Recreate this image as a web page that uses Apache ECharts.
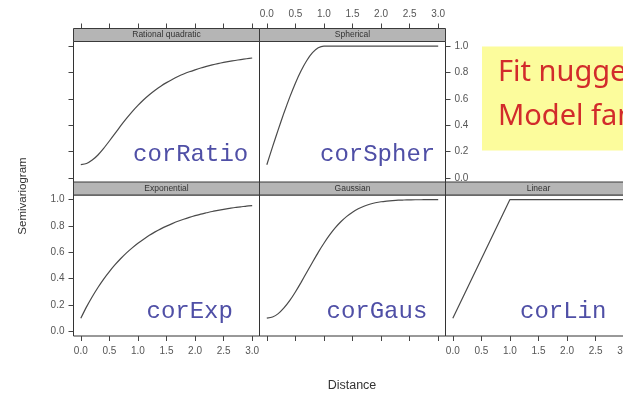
<!DOCTYPE html>
<html>
<head>
<meta charset="utf-8">
<script src="https://cdn.jsdelivr.net/npm/echarts@6/dist/echarts.min.js"></script>
<style>html,body{margin:0;padding:0;background:#fff}#c{width:623px;height:394px}</style>
</head>
<body>
<div id="c"></div>
<script>
// ---- data ----
const xTicks = [0, 0.5, 1, 1.5, 2, 2.5, 3];
const yTicks = [0, 0.2, 0.4, 0.6, 0.8, 1];
const distance = [0,0.1,0.2,0.3,0.4,0.5,0.6,0.7,0.8,0.9,1.0,1.1,1.2,1.3,1.4,1.5,1.6,1.7,1.8,1.9,2.0,2.1,2.2,2.3,2.4,2.5,2.6,2.7,2.8,2.9,3.0];
const rationalVals = [0.1,0.109,0.135,0.174,0.224,0.28,0.338,0.396,0.451,0.503,0.55,0.593,0.631,0.665,0.696,0.723,0.747,0.769,0.788,0.805,0.82,0.834,0.846,0.857,0.867,0.876,0.884,0.891,0.898,0.904,0.91];
const exponentialVals = [0.1,0.186,0.263,0.333,0.397,0.454,0.506,0.553,0.596,0.634,0.669,0.7,0.729,0.755,0.778,0.799,0.818,0.836,0.851,0.865,0.878,0.89,0.9,0.91,0.918,0.926,0.933,0.94,0.945,0.951,0.955];
const gaussianVals = [0.1,0.109,0.135,0.178,0.233,0.299,0.372,0.449,0.525,0.6,0.669,0.732,0.787,0.834,0.873,0.905,0.93,0.95,0.965,0.976,0.984,0.989,0.993,0.996,0.997,0.998,0.999,0.999,1.0,1.0,1.0];
const sphericalDist = [0,0.1,0.2,0.3,0.4,0.5,0.6,0.7,0.8,0.9,1.0,3.0];
const sphericalVals = [0.1,0.235,0.366,0.493,0.611,0.719,0.813,0.891,0.95,0.987,1.0,1.0];
const linearDist = [0, 1, 3];
const linearVals = [0.1, 1.0, 1.0];

const stripNames = ['Rational quadratic','Spherical','Exponential','Gaussian','Linear'];
const corNames = ['corRatio','corSpher','corExp','corGaus','corLin'];

// ---- layout ----
const colLeft = [73.5, 259.5, 445.5];
const colW = 186;
const rowTop = [41.5, 195];
const rowH = 141;
const stripH = 13;
// panel placement: [col,row]
const place = [[0,0],[1,0],[0,1],[1,1],[2,1]];
const seriesData = [
  distance.map((d,i)=>[d, rationalVals[i]]),
  sphericalDist.map((d,i)=>[d, sphericalVals[i]]),
  distance.map((d,i)=>[d, exponentialVals[i]]),
  distance.map((d,i)=>[d, gaussianVals[i]]),
  linearDist.map((d,i)=>[d, linearVals[i]])
];
const smoothing = [0.2, 0.15, 0.2, 0.2, false];
// axis config: [position, ticks, labels]
const xCfg = [['top',true,false],['top',true,true],['bottom',true,true],['bottom',true,false],['bottom',true,true]];
const yCfg = [['left',true,false],['right',true,true],['left',true,true],['left',false,false],['right',true,false]];
const corPos = [[133,166.5],[320,166.5],[146.5,323.5],[326.5,323.5],[520,323.5]];

const axisColor = '#444';
const labelColor = '#555';
const fmt = v => v.toFixed(1);

const grids = [], xAxes = [], yAxes = [], series = [], graphics = [];
place.forEach((p,i)=>{
  const left = colLeft[p[0]], top = rowTop[p[1]];
  grids.push({left:left, top:top, width:colW, height:rowH, show:true, borderColor:'#333', borderWidth:1,
              backgroundColor:'transparent', containLabel:false, outerBoundsMode:'none'});
  const xc = xCfg[i], yc = yCfg[i];
  xAxes.push({
    type:'value', gridIndex:i, min:-0.128, max:3.128, position:xc[0],
    offset: xc[0]==='top' ? stripH : 0,
    axisLine:{show:false, onZero:false},
    axisTick:{show:xc[1], length:5, inside:false, customValues:xTicks, lineStyle:{color:axisColor, width:1}},
    axisLabel:{show:xc[2], customValues:xTicks, formatter:fmt, fontSize:10, color:labelColor, fontFamily:'Liberation Sans', margin: xc[0]==='top'?9:10},
    splitLine:{show:false}
  });
  yAxes.push({
    type:'value', gridIndex:i, min:-0.035, max:1.035, position:yc[0],
    axisLine:{show:false, onZero:false},
    axisTick:{show:yc[1], length:5, inside:false, customValues:yTicks, lineStyle:{color:axisColor, width:1}},
    axisLabel:{show:yc[2], customValues:yTicks, formatter:fmt, fontSize:10, color:labelColor, fontFamily:'Liberation Sans', margin:9},
    splitLine:{show:false}
  });
  series.push({
    type:'line', xAxisIndex:i, yAxisIndex:i, data:seriesData[i], showSymbol:false, smooth:smoothing[i],
    lineStyle:{color:'#4a4a4a', width:1.2}, silent:true
  });
  graphics.push({type:'rect', shape:{x:left, y:top-stripH, width:colW, height:stripH}, style:{fill:'#b5b5b5', stroke:'#3a3a3a', lineWidth:1}, z:10});
  graphics.push({type:'text', x:left+colW/2, y:top-stripH/2, style:{text:stripNames[i], fill:'#333', font:'8.5px "Liberation Sans"', textAlign:'center', textVerticalAlign:'middle'}, z:11});
  graphics.push({type:'text', x:corPos[i][0], y:corPos[i][1], style:{text:corNames[i], fill:'#4f4fa6', font:'24px "Liberation Mono"', textAlign:'left', textVerticalAlign:'bottom'}, z:12});
});

// axis titles
graphics.push({type:'text', x:23, y:196, rotation:Math.PI/2, style:{text:'Semivariogram', fill:'#333', font:'11.5px "Liberation Sans"', textAlign:'center', textVerticalAlign:'middle'}, z:12});
graphics.push({type:'text', x:352, y:386, style:{text:'Distance', fill:'#333', font:'12.5px "Liberation Sans"', textAlign:'center', textVerticalAlign:'middle'}, z:12});

// yellow note
graphics.push({type:'rect', shape:{x:482, y:46.5, width:160, height:104}, style:{fill:'#fcfc9c'}, z:5});
graphics.push({type:'text', x:498, y:87, style:{text:'Fit nugget?', fill:'#d22b2b', font:'29px "Noto Sans"', textAlign:'left', textVerticalAlign:'bottom'}, z:6});
graphics.push({type:'text', x:498, y:131, style:{text:'Model family', fill:'#d22b2b', font:'29px "Noto Sans"', textAlign:'left', textVerticalAlign:'bottom'}, z:6});

const chart = echarts.init(document.getElementById('c'), null, {renderer:'canvas'});
chart.setOption({
  animation:false,
  backgroundColor:'#fff',
  grid:grids, xAxis:xAxes, yAxis:yAxes, series:series, graphic:graphics
});
</script>
</body>
</html>
